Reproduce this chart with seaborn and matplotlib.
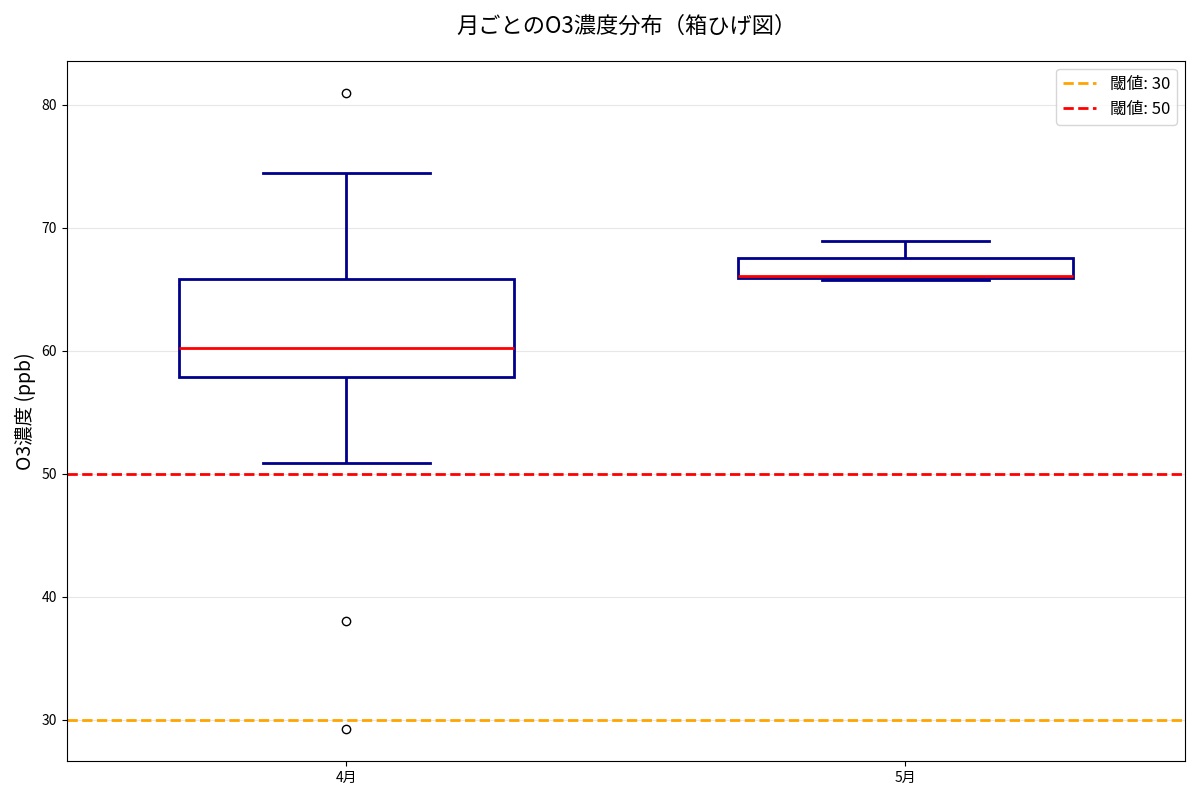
import pandas as pd
import numpy as np
import seaborn as sns
import matplotlib.pyplot as plt

# O3 readings per month (ppb)
apr_o3 = [29.2, 38.0, 50.9, 57.9, 58.6, 59.4, 60.2, 62.1, 64.0, 65.85, 70.3, 74.45, 81.0]
may_o3 = [65.75, 65.95, 66.1, 67.55, 68.9]
months = ['4月', '5月']
thresholds = [30, 50]
threshold_colors = ['orange', 'red']

df = pd.DataFrame({
    'month': [months[0]] * len(apr_o3) + [months[1]] * len(may_o3),
    'o3': apr_o3 + may_o3,
})

# plain matplotlib look (ticks visible), Japanese font
plt.rcParams['font.family'] = ['Noto Sans CJK JP', 'DejaVu Sans']

fig, ax = plt.subplots(figsize=(12, 8), dpi=100)
navy = '#00008B'
sns.boxplot(data=df, x='month', y='o3', order=months, width=0.6, ax=ax,
            boxprops=dict(facecolor='white', edgecolor=navy, linewidth=2),
            whiskerprops=dict(color=navy, linewidth=2),
            capprops=dict(color=navy, linewidth=2),
            medianprops=dict(color='red', linewidth=2),
            flierprops=dict(marker='o', markerfacecolor='none',
                            markeredgecolor='black', markersize=6))

for t, c in zip(thresholds, threshold_colors):
    ax.axhline(t, color=c, linestyle='--', linewidth=2, label=f'閾値: {t}')

ax.set_title('月ごとのO3濃度分布（箱ひげ図）', fontsize=16, pad=20)
ax.set_ylabel('O3濃度 (ppb)', fontsize=14)
ax.set_xlabel('')
ax.grid(axis='y', alpha=0.3)
ax.legend(loc='upper right', fontsize=12)

plt.tight_layout()
plt.savefig('out.png')
